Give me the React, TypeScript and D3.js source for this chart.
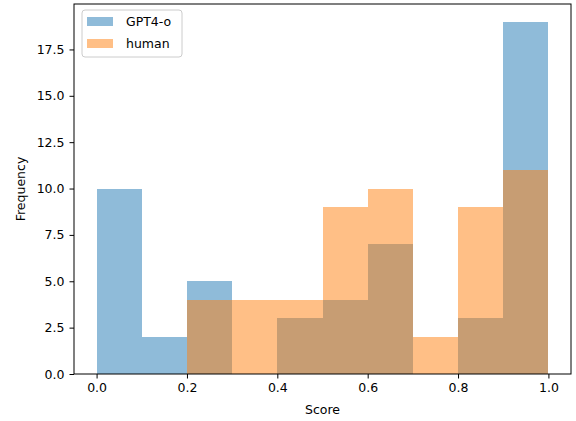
import { useEffect, useRef } from "react";
import * as d3 from "d3";

const binEdges = [0, 0.1, 0.2, 0.3, 0.4, 0.5, 0.6, 0.7, 0.8, 0.9, 1.0];
const gptCounts = [10, 2, 5, 0, 3, 4, 7, 0, 3, 19];
const humanCounts = [0, 0, 4, 4, 4, 9, 10, 2, 9, 11];
const seriesNames = ["GPT4-o", "human"];
const seriesColors = ["#1f77b4", "#ff7f0e"];
const xTicks = [0, 0.2, 0.4, 0.6, 0.8, 1.0];
const yTicks = [0, 2.5, 5, 7.5, 10, 12.5, 15, 17.5];

const W = 576;
const H = 421;

export default function App() {
	const svgRef = useRef<SVGSVGElement>(null);

	useEffect(() => {
		if (!svgRef.current) return;
		const svg = d3.select(svgRef.current);
		svg.selectAll("*").remove();

		const margin = { top: 4, right: 5, bottom: 47, left: 74 };
		const innerW = W - margin.left - margin.right;
		const innerH = H - margin.top - margin.bottom;
		const font = "DejaVu Sans, sans-serif";

		const g = svg
			.append("g")
			.attr("transform", `translate(${margin.left},${margin.top})`);

		const x = d3.scaleLinear().domain([-0.05, 1.05]).range([0, innerW]);
		const yMax = d3.max([...gptCounts, ...humanCounts]) ?? 19;
		const y = d3.scaleLinear().domain([0, yMax * 1.05]).range([innerH, 0]);

		[gptCounts, humanCounts].forEach((counts, si) => {
			g.append("g")
				.attr("shape-rendering", "crispEdges")
				.selectAll("rect")
				.data(counts)
				.join("rect")
				.attr("x", (_, i) => x(binEdges[i]))
				.attr("width", (_, i) => x(binEdges[i + 1]) - x(binEdges[i]))
				.attr("y", (d) => y(d))
				.attr("height", (d) => y(0) - y(d))
				.attr("fill", seriesColors[si])
				.attr("fill-opacity", 0.5);
		});

		// axes
		const xAxis = g
			.append("g")
			.attr("transform", `translate(0,${innerH})`)
			.call(
				d3
					.axisBottom(x)
					.tickValues(xTicks)
					.tickFormat(d3.format(".1f"))
					.tickSize(4.5)
					.tickPadding(5)
			);
		const yAxis = g.append("g").call(
			d3
				.axisLeft(y)
				.tickValues(yTicks)
				.tickFormat(d3.format(".1f"))
				.tickSize(4.5)
				.tickPadding(5)
		);
		[xAxis, yAxis].forEach((a) => {
			a.select(".domain").remove();
			a.selectAll("line").attr("stroke", "#000").attr("stroke-width", 1);
			a.selectAll("text")
				.attr("font-family", font)
				.attr("font-size", 12.5)
				.attr("fill", "#000");
		});

		g.append("rect")
			.attr("width", innerW)
			.attr("height", innerH)
			.attr("fill", "none")
			.attr("stroke", "#000")
			.attr("stroke-width", 1);

		svg.append("text")
			.attr("x", margin.left + innerW / 2)
			.attr("y", H - 7)
			.attr("text-anchor", "middle")
			.attr("font-family", font)
			.attr("font-size", 12.5)
			.text("Score");

		svg.append("text")
			.attr("transform", `translate(25,${margin.top + innerH / 2}) rotate(-90)`)
			.attr("text-anchor", "middle")
			.attr("font-family", font)
			.attr("font-size", 12.5)
			.text("Frequency");

		// legend
		const lg = svg.append("g").attr("transform", "translate(82,10)");
		lg.append("rect")
			.attr("width", 100)
			.attr("height", 47)
			.attr("rx", 3)
			.attr("fill", "#fff")
			.attr("fill-opacity", 0.8)
			.attr("stroke", "#ccc");
		seriesNames.forEach((name, i) => {
			lg.append("rect")
				.attr("x", 5)
				.attr("y", 7 + i * 22)
				.attr("width", 26)
				.attr("height", 9)
				.attr("fill", seriesColors[i])
				.attr("fill-opacity", 0.5);
			lg.append("text")
				.attr("x", 44)
				.attr("y", 16 + i * 22)
				.attr("font-family", font)
				.attr("font-size", 12.5)
				.text(name);
		});
	}, []);

	return (
		<svg
			ref={svgRef}
			width={W}
			height={H}
			style={{ position: "absolute", left: 0, top: 0 }}
		/>
	);
}
